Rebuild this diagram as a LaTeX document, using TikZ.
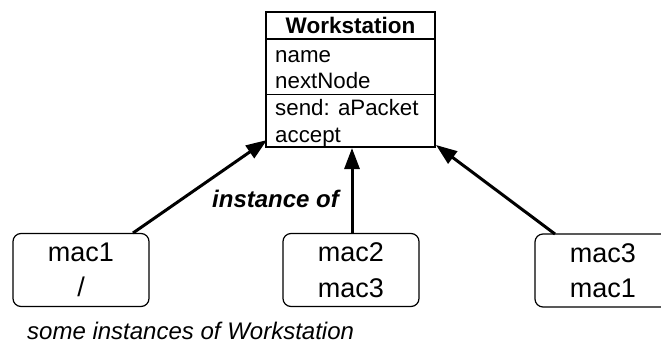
\documentclass[tikz,border=0pt]{standalone}
\usepackage{fontspec}
\setmainfont{Liberation Sans}
\usetikzlibrary{arrows.meta}
\begin{document}
\begin{tikzpicture}[x=1pt,y=-1pt,
  classbox/.style={draw,line width=1.4pt,minimum width=169pt,minimum height=135pt,inner sep=0pt},
  member/.style={anchor=base west,inner sep=0pt,font=\fontsize{22.3}{26}\selectfont},
  instbox/.style={draw,line width=1.2pt,rounded corners=8pt,minimum width=136pt,minimum height=73pt,
    align=center,inner sep=0pt,font=\fontsize{27}{35.5}\selectfont},
  link/.style={line width=3pt,-{Triangle[length=21pt,width=15pt]}}]
\useasboundingbox (0,0) rectangle (661,346);
% class box
\node[classbox] (ws) at (350.5,79.5) {};
\draw[line width=1.4pt] (266,39) -- (435,39);
\draw[line width=1.4pt] (266,94.5) -- (435,94.5);
\node[anchor=base,inner sep=0pt,font=\fontsize{22.5}{26}\selectfont\bfseries] (title) at (350.5,33) {Workstation};
\node[member] (m1) at (275,62) {name};
\node[member] (m2) at (275,88) {nextNode};
\node[member] (m3) at (275,115) {send: aPacket};
\node[member] (m4) at (275,142) {accept};
\draw[line width=1pt] (324,140) -- (324,147);
% instances
\node[instbox] (i1) at (81,270) {mac1\\/};
\node[instbox] (i2) at (351,270) {mac2\\mac3};
\node[instbox] (i3) at (603,270.5) {mac3\\mac1};
% arrow ends
\coordinate (t1) at (267,140);
\coordinate (t2) at (352,148);
\coordinate (t3) at (436,145);
\coordinate (s1) at (133,233);
\coordinate (s2) at (352,233);
\coordinate (s3) at (555,234);
\draw[link] (s1) -- (t1);
\draw[link] (s2) -- (t2);
\draw[link] (s3) -- (t3);
\node[anchor=base west,inner sep=0pt,font=\fontsize{24}{26}\selectfont\bfseries\itshape] (lab) at (212,207) {instance of};
\node[anchor=base west,inner sep=0pt,font=\fontsize{24}{26}\selectfont\itshape] (cap) at (27,339) {some instances of Workstation};
\end{tikzpicture}
\end{document}
